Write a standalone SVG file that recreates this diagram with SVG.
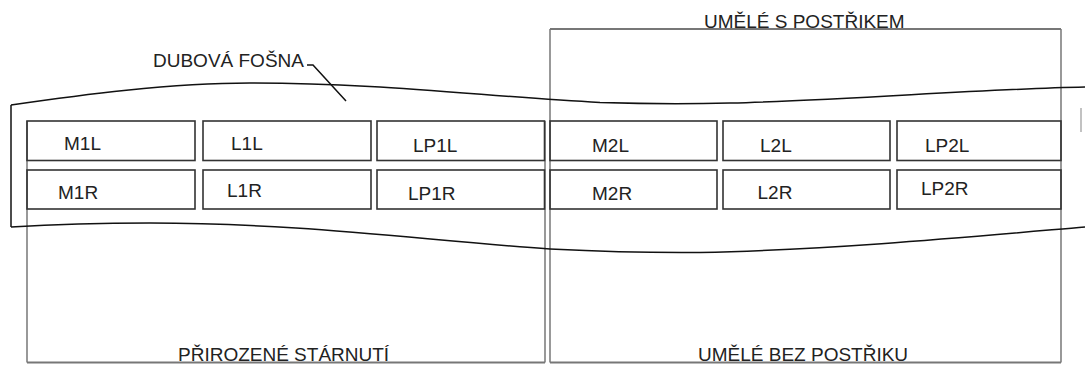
<svg xmlns="http://www.w3.org/2000/svg" width="1085" height="365" viewBox="0 0 1085 365">
<style>
text{font-family:"Liberation Sans",Arial,sans-serif;font-size:19px;fill:#222}
.box{fill:none;stroke:#333;stroke-width:1.6}
.zone{fill:none;stroke:#555;stroke-width:1.2}
.base{fill:none;stroke:#777;stroke-width:2}
.plank{fill:none;stroke:#111;stroke-width:1.5}
</style>
<rect width="1085" height="365" fill="#fff"/>
<g id="zone-natural">
<path class="zone" d="M27,121 V362.5 M545,121 V362.5"/>
<path class="base" d="M27,362.5 H545"/>
<text x="178" y="361">PŘIROZENÉ STÁRNUTÍ</text>
</g>
<g id="zone-artificial">
<path class="zone" d="M550,29 V362.5 M1061,29 V362.5"/>
<path class="base" d="M550,29 H1061 M550,362.5 H1061"/>
<text x="704" y="28">UMĚLÉ S POSTŘIKEM</text>
<text x="698" y="361">UMĚLÉ BEZ POSTŘIKU</text>
</g>
<g id="plank">
<path class="plank" d="M11,105 C80,95 170,83 250,83 C380,83 480,96 600,102.5 C650,104 690,104 730,103 C850,100 980,89 1085,87"/>
<path class="plank" d="M11,227 C60,224 100,223 150,223 C300,223 420,240 550,249 C610,252 650,253 700,252.5 C830,250 980,236 1085,227"/>
<path class="plank" d="M11,105 V227"/>
<path d="M1081,108 V132" fill="none" stroke="#999" stroke-width="1.2"/>
<text x="153" y="67">DUBOVÁ FOŠNA</text>
</g>
<g id="connectors">
<path class="plank" d="M307,65 L313,65 L346,101" stroke-width="1.2"/>
</g>
<g id="M1L"><rect class="box" x="27" y="121" width="168" height="39.5"/><text x="64" y="150">M1L</text></g>
<g id="L1L"><rect class="box" x="203" y="121" width="168" height="39.5"/><text x="231" y="150">L1L</text></g>
<g id="LP1L"><rect class="box" x="377" y="121" width="167.5" height="39.5"/><text x="413" y="152">LP1L</text></g>
<g id="M2L"><rect class="box" x="550" y="121" width="167" height="39.5"/><text x="592" y="151.5">M2L</text></g>
<g id="L2L"><rect class="box" x="723" y="121" width="167" height="39.5"/><text x="760" y="151.5">L2L</text></g>
<g id="LP2L"><rect class="box" x="897" y="121" width="164" height="39.5"/><text x="925" y="151.5">LP2L</text></g>
<g id="M1R"><rect class="box" x="27" y="170" width="168" height="39"/><text x="58" y="198.5">M1R</text></g>
<g id="L1R"><rect class="box" x="203" y="170" width="168" height="39"/><text x="227" y="196.5">L1R</text></g>
<g id="LP1R"><rect class="box" x="377" y="170" width="167.5" height="39"/><text x="408" y="199.5">LP1R</text></g>
<g id="M2R"><rect class="box" x="550" y="170" width="167" height="39"/><text x="592" y="200">M2R</text></g>
<g id="L2R"><rect class="box" x="723" y="170" width="167" height="39"/><text x="757.5" y="199">L2R</text></g>
<g id="LP2R"><rect class="box" x="897" y="170" width="164" height="39"/><text x="921" y="195">LP2R</text></g>
</svg>
